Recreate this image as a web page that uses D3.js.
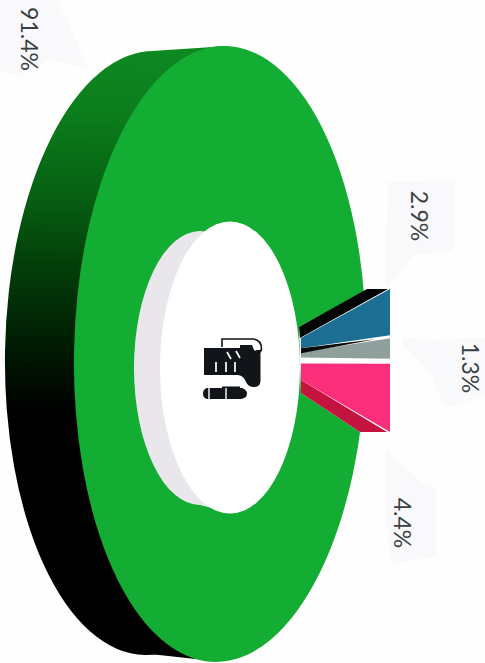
<!DOCTYPE html>
<html>
<head>
<meta charset="utf-8">
<style>html,body{margin:0;padding:0;background:#fefefe}svg{display:block}</style>
<script src="https://cdn.jsdelivr.net/npm/d3@7"></script>
</head>
<body>
<script>
// Data
const categories = ["Main", "Teal", "Grey", "Pink"];
const values = [91.4, 2.9, 1.3, 4.4];
const tickLabels = ["91.4%", "2.9%", "1.3%", "4.4%"];
const sliceColors = ["#14ad33", "#1c6f93", "#8f9f9c", "#fb2e7a"];
const sideColors = [null, "#050505", "#0a0a0a", "#c4133f"];

const W = 485, H = 663;
const svg = d3.select("body").append("svg").attr("width", W).attr("height", H);
svg.append("rect").attr("width", W).attr("height", H).attr("fill", "#fefefe");
const defs = svg.append("defs");
const grad = defs.append("linearGradient").attr("id", "depth")
  .attr("gradientUnits", "userSpaceOnUse").attr("x1", 0).attr("x2", 0).attr("y1", 45).attr("y2", 660);
[[0, "#0e8a22"], [.12, "#0b7c1b"], [.25, "#065f12"], [.36, "#033f09"], [.47, "#012104"], [.6, "#000"], [1, "#000"]]
  .forEach(s => grad.append("stop").attr("offset", s[0]).attr("stop-color", s[1]));

const line = d3.line();
const poly = (pts, fill) => svg.append("path").attr("d", line(pts) + "Z").attr("fill", fill);

// Faint callout boxes behind labels
const calloutFill = "#f9f9fb";
[
  [[0,0],[58,0],[88,68],[48,60],[18,76],[0,70]],
  [[388,182],[455,180],[453,250],[412,256],[385,292]],
  [[432,340],[485,338],[485,396],[445,408],[430,372],[396,338]],
  [[386,450],[420,482],[436,488],[436,556],[392,564],[386,520]]
].forEach(p => poly(p, calloutFill));

// Pie layout drives the wedges
const pie = d3.pie().sort(null).value(d => d);
const wedgeSweep = (d3.sum(values.slice(1)) / d3.sum(values)) * 2 * Math.PI;
const first = Math.PI / 2 - wedgeSweep / 2;
const arcs = pie.startAngle(first + wedgeSweep - 2 * Math.PI).endAngle(first + wedgeSweep)(values);
const outerY = d3.scaleLinear().domain([first, first + wedgeSweep]).range([289, 432]);
const innerY = d3.scaleLinear().domain([first, first + wedgeSweep]).range([338, 380]);
const innerX = 301, outerX = 390;

// per-slice gaps & side-face extents (index matches values)
const outerGapStart = [0, 0, 1, 5], outerGapEnd = [0, 2, 0, 0];
const innerGapStart = [0, 0, 0, 5], innerGapEnd = [0, 4, 1, 0];
const sideInner = [0, -11, -4, 13], sideOuterX = [0, 23, 15, 28];

// Extruded back
const tilt = 1;
const ell = (cx, cy, rx, ry, fill, rot) => svg.append("ellipse")
  .attr("transform", `rotate(${rot || 0},${cx},${cy})`)
  .attr("cx", cx).attr("cy", cy)
  .attr("rx", rx).attr("ry", ry).attr("fill", fill);
ell(150, 353, 145, 302, "url(#depth)", tilt);
poly([[152, 51], [228, 46], [214, 661], [150, 654]], "url(#depth)");

// Front ring
ell(220, 354, 146, 308, "#14ad33", tilt);

// Notch cut for the separated wedges, following slice boundaries
const s1 = arcs[1], s3 = arcs[3];
const notchTop = [[innerX - 2, innerY(s1.startAngle) + sideInner[1]], [outerX - sideOuterX[1] + 2, outerY(s1.startAngle)], [outerX + 12, outerY(s1.startAngle) - 4]];
const notchBot = [[outerX + 12, outerY(s3.endAngle) + 4], [outerX - sideOuterX[3] - 2, outerY(s3.endAngle)], [innerX, innerY(s3.endAngle) + sideInner[3]]];
poly(notchTop.concat(notchBot), "#fefefe");

// Hole: inner wall + white face
ell(200, 368, 66, 137, "#e9e7ec");
poly([[205, 231], [233, 222], [231, 513], [200, 505]], "#e9e7ec");
ell(230, 367.5, 70, 146, "#ffffff");

// Wedges
arcs.slice(1).forEach(a => {
  const i = a.index;
  const iy0 = innerY(a.startAngle) + innerGapStart[i], iy1 = innerY(a.endAngle) - innerGapEnd[i];
  const oy0 = outerY(a.startAngle) + outerGapStart[i], oy1 = outerY(a.endAngle) - outerGapEnd[i];
  if (i === 3) {
    poly([[innerX, iy1], [outerX - 3, oy1], [outerX - sideOuterX[i] - 2, oy1], [innerX, iy1 + sideInner[i]]], sideColors[i]);
  } else if (i === 1) {
    poly([[innerX - 1, iy0], [outerX - 2, oy0], [outerX - sideOuterX[i], oy0], [innerX - 2, iy0 + sideInner[i]]], sideColors[i]);
  }
  poly([[innerX, iy0], [outerX, oy0], [outerX, oy1], [innerX, iy1]], sliceColors[i]);
  if (i === 2) {
    poly([[innerX, iy0 + 1], [outerX - sideOuterX[i], oy0 + 1], [innerX, iy0 + sideInner[i]]], sideColors[i]);
  }
});

// Icon
const icon = svg.append("g").attr("fill", "#111418");
icon.append("path").attr("d", "M204 348H239V345H252Q256 345 256 349V350H260.5V381Q260 387 254 387Q248 387 246 382Q244 376 238 375H204Z");
icon.append("path").attr("d", "M222 347V339H253Q261.5 340 261.5 349Q261 352 257 354").attr("fill", "none").attr("stroke", "#111418").attr("stroke-width", 1.6);
icon.append("path").attr("d", "M224 348V341H252Q258 342 258 348Q256 352 254 350L252 345H240V348Z").attr("fill", "#fff");
const wh = svg.append("g").attr("stroke", "#fff").attr("stroke-width", 1.7);
[[216,362,216,372],[226,362,226,372],[235,362,235,372],[227,352,231,359],[236,351,240,358]]
  .forEach(l => wh.append("line").attr("x1", l[0]).attr("y1", l[1]).attr("x2", l[2]).attr("y2", l[3]));
icon.append("path").attr("d", "M207 388H222V386.5H240V388H242Q247 390 247 393.5Q247 398 241 399H207Q203 398 203 393.5Q203 389 207 388Z");
const wh2 = svg.append("g").attr("stroke", "#fff").attr("stroke-width", 1.4);
[[209,388,209,399],[226,388,226,399]].forEach(l => wh2.append("line").attr("x1", l[0]).attr("y1", l[1]).attr("x2", l[2]).attr("y2", l[3]));

// Labels (rotated 90 degrees clockwise)
const labelPos = [[29, 39], [419, 216], [470, 368], [402, 523]];
svg.selectAll("text.lab").data(tickLabels).join("text").attr("class", "lab")
  .attr("transform", (d, i) => `translate(${labelPos[i][0]},${labelPos[i][1]}) rotate(90)`)
  .attr("text-anchor", "middle").attr("dy", "0.36em")
  .attr("font-family", "Lato, sans-serif").attr("font-size", 23)
  .attr("fill", "#3a3f44").text(d => d);
</script>
</body>
</html>
